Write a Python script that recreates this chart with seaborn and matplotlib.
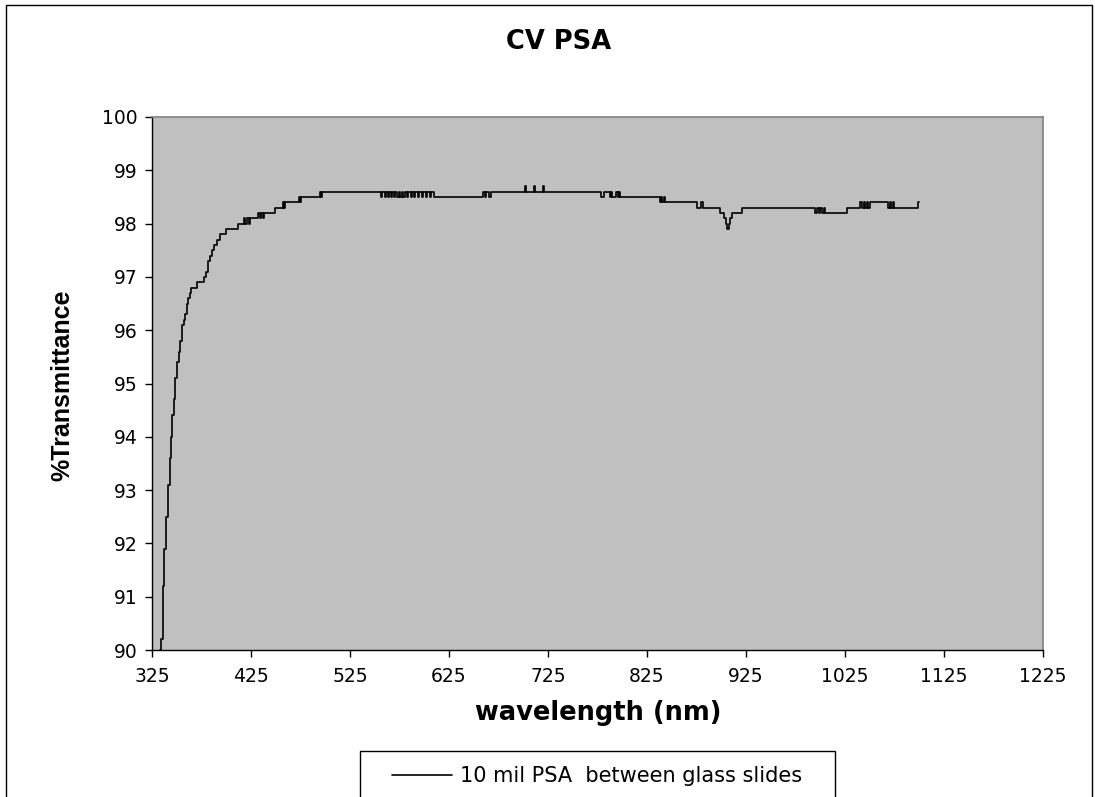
import matplotlib
matplotlib.use("Agg")
import matplotlib.pyplot as plt
from matplotlib.patches import Rectangle
import pandas as pd
import seaborn as sns

# ── Data (plateau starts, drawn as steps) ────────────────────────────────────
WAVELENGTH = [
    333, 334, 336, 337, 339, 341, 343, 344, 345, 347, 348, 350, 352, 353, 355,
    357, 358, 360, 361, 363, 364, 370, 378, 380, 382, 384, 386, 388, 391, 394,
    400, 412, 418, 419, 421, 423, 424, 432, 434, 435, 437, 438, 449, 457, 458,
    459, 473, 474, 475, 495, 496, 497,
    556, 557, 560, 561, 563, 564, 566, 567, 569, 570, 572, 574, 576, 578, 579,
    581, 583, 584, 587, 588, 590, 591, 594, 595, 598, 599, 602, 603, 606, 607,
    610,
    659, 661, 662, 665, 667, 702, 703, 711, 712, 720, 721,
    779, 782, 788, 789, 790, 794, 796, 797, 798,
    838, 839, 840, 842, 843,
    875, 880, 882,
    899, 903, 905, 906, 908, 909, 911, 921,
    995, 997, 999, 1000, 1002, 1004, 1005,
    1027, 1040, 1042, 1044, 1045, 1047, 1048, 1050,
    1068, 1070, 1071, 1073, 1074,
    1099, 1100,
]
TRANSMITTANCE = [
    90.0, 90.2, 91.2, 91.9, 92.5, 93.1, 93.6, 94.0, 94.4, 94.7, 95.1, 95.4, 95.6, 95.8, 96.1,
    96.2, 96.3, 96.5, 96.6, 96.7, 96.8, 96.9, 97.0, 97.1, 97.3, 97.4, 97.5, 97.6, 97.7, 97.8,
    97.9, 98.0, 98.1, 98.0, 98.1, 98.0, 98.1, 98.2, 98.1, 98.2, 98.1, 98.2, 98.3, 98.4, 98.3,
    98.4, 98.5, 98.4, 98.5, 98.6, 98.5, 98.6,
    98.5, 98.6, 98.5, 98.6, 98.5, 98.6, 98.5, 98.6, 98.5, 98.6, 98.5, 98.6, 98.5, 98.6, 98.5,
    98.6, 98.5, 98.6, 98.5, 98.6, 98.5, 98.6, 98.5, 98.6, 98.5, 98.6, 98.5, 98.6, 98.5, 98.6,
    98.5,
    98.6, 98.5, 98.6, 98.5, 98.6, 98.7, 98.6, 98.7, 98.6, 98.7, 98.6,
    98.5, 98.6, 98.5, 98.6, 98.5, 98.6, 98.5, 98.6, 98.5,
    98.4, 98.5, 98.4, 98.5, 98.4,
    98.3, 98.4, 98.3,
    98.2, 98.1, 98.0, 97.9, 98.0, 98.1, 98.2, 98.3,
    98.2, 98.3, 98.2, 98.3, 98.2, 98.3, 98.2,
    98.3, 98.4, 98.3, 98.4, 98.3, 98.4, 98.3, 98.4,
    98.3, 98.4, 98.3, 98.4, 98.3,
    98.4, 98.4,
]
SERIES_LABEL = "10 mil PSA  between glass slides"
X_TICKS = [325, 425, 525, 625, 725, 825, 925, 1025, 1125, 1225]
Y_TICKS = [90, 91, 92, 93, 94, 95, 96, 97, 98, 99, 100]

df = pd.DataFrame({"wavelength": WAVELENGTH, "transmittance": TRANSMITTANCE})

# ── Figure ───────────────────────────────────────────────────────────────────
sns.set_style("white")
plt.rcParams["font.family"] = ["DejaVu Sans"]
plt.rcParams["text.color"] = "black"
plt.rcParams["xtick.color"] = "black"
plt.rcParams["ytick.color"] = "black"

W, H = 1095, 797
fig = plt.figure(figsize=(W / 100, H / 100), dpi=100, facecolor="white")

# plot area in pixel coords: x 152..1043, y 117..650
ax = fig.add_axes([152 / W, 1 - 650 / H, (1043 - 152) / W, (650 - 117) / H])
ax.set_facecolor("#C0C0C0")

sns.lineplot(data=df, x="wavelength", y="transmittance", ax=ax, color="black",
             linewidth=1.2, estimator=None, sort=False, drawstyle="steps-post",
             label=SERIES_LABEL)

ax.set_xlim(325, 1225)
ax.set_ylim(90, 100)
ax.set_xticks(X_TICKS)
ax.set_yticks(Y_TICKS)
ax.set_xlabel("")
ax.set_ylabel("")
ax.tick_params(axis="both", direction="out", length=5, width=1, color="black",
               labelsize=13.5, labelcolor="black", bottom=True, left=True)
ax.tick_params(axis="x", pad=7)
ax.tick_params(axis="y", pad=5)

for side in ["left", "bottom"]:
    ax.spines[side].set_color("black")
    ax.spines[side].set_linewidth(1)
for side in ["top", "right"]:
    ax.spines[side].set_visible(True)
    ax.spines[side].set_color("#808080")
    ax.spines[side].set_linewidth(1.2)

# ── Texts ────────────────────────────────────────────────────────────────────
fig.text(559 / W, 1 - 42 / H, "CV PSA", ha="center", va="center",
         fontsize=18.5, fontweight="bold", color="black")
fig.text(598 / W, 1 - 713 / H, "wavelength (nm)", ha="center", va="center",
         fontsize=18.5, fontweight="bold", color="black")
fig.text(62 / W, 1 - 385 / H, "%Transmittance", ha="center", va="center",
         rotation=90, fontsize=18, fontweight="bold", color="black",
         family=["Liberation Sans", "DejaVu Sans"])

# ── Legend (box runs off the bottom edge like the reference) ─────────────────
fig.add_artist(Rectangle((360 / W, -0.05), (835 - 360) / W, 0.05 + 1 - 751 / H,
                         transform=fig.transFigure, fill=False,
                         edgecolor="black", linewidth=1))
ax.legend(loc="center left", bbox_to_anchor=(392 / W, 1 - 776 / H),
          bbox_transform=fig.transFigure, frameon=False, fontsize=15,
          borderpad=0, handlelength=2.9, handletextpad=0.35, borderaxespad=0)

# chart-area border
fig.add_artist(Rectangle((6 / W, -0.05), (1092 - 6) / W, 1.05 - 5 / H,
                         transform=fig.transFigure, fill=False,
                         edgecolor="black", linewidth=1))

fig.savefig("out.png", dpi=100, facecolor="white")
